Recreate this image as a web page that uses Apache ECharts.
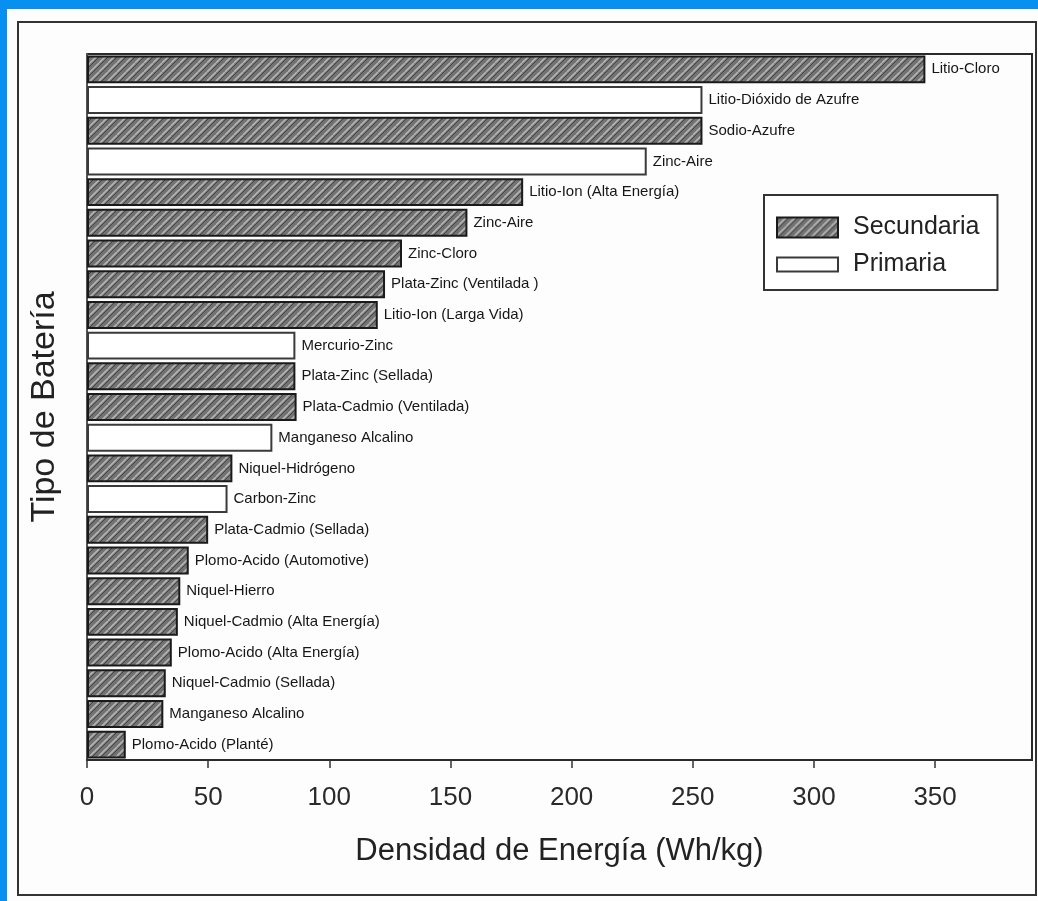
<!DOCTYPE html>
<html>
<head>
<meta charset="utf-8">
<script src="https://cdn.jsdelivr.net/npm/echarts@6/dist/echarts.min.js"></script>
<style>
html,body{margin:0;padding:0;background:#0890f0;}
#chart{width:1038px;height:901px;}
</style>
</head>
<body>
<div id="chart"></div>
<script>
// ---- data (top to bottom) ----
const categories = [
  'Litio-Cloro', 'Litio-Dióxido de Azufre', 'Sodio-Azufre', 'Zinc-Aire',
  'Litio-Ion (Alta Energía)', 'Zinc-Aire', 'Zinc-Cloro', 'Plata-Zinc (Ventilada )',
  'Litio-Ion (Larga Vida)', 'Mercurio-Zinc', 'Plata-Zinc (Sellada)', 'Plata-Cadmio (Ventilada)',
  'Manganeso Alcalino', 'Niquel-Hidrógeno', 'Carbon-Zinc', 'Plata-Cadmio (Sellada)',
  'Plomo-Acido (Automotive)', 'Niquel-Hierro', 'Niquel-Cadmio (Alta Energía)', 'Plomo-Acido (Alta Energía)',
  'Niquel-Cadmio (Sellada)', 'Manganeso Alcalino', 'Plomo-Acido (Planté)'
];
const energyDensity = [
  346, 254, 254, 231,
  180, 157, 130, 123,
  120, 86, 86, 86.5,
  76.5, 60, 58, 50,
  42, 38.5, 37.5, 35,
  32.5, 31.5, 16
];
// S = Secundaria, P = Primaria
const batteryType = [
  'S', 'P', 'S', 'P',
  'S', 'S', 'S', 'S',
  'S', 'P', 'S', 'S',
  'P', 'S', 'P', 'S',
  'S', 'S', 'S', 'S',
  'S', 'S', 'S'
];
const seriesNames = ['Secundaria', 'Primaria'];
const xTickValues = [0, 50, 100, 150, 200, 250, 300, 350];

const secondaryData = energyDensity.map((v, i) => batteryType[i] === 'S' ? v : '-');
const primaryData = energyDensity.map((v, i) => batteryType[i] === 'P' ? v : '-');

// hatch pattern for secondary bars
function makeHatch() {
  const c = document.createElement('canvas');
  c.width = 9; c.height = 9;
  const g = c.getContext('2d');
  g.fillStyle = '#727272';
  g.fillRect(0, 0, 9, 9);
  g.strokeStyle = '#b4b4b4';
  g.lineWidth = 1.6;
  for (let k = -9; k <= 18; k += 9) {
    g.beginPath(); g.moveTo(k, 9); g.lineTo(k + 9, 0); g.stroke();
  }
  g.strokeStyle = '#454545';
  g.lineWidth = 1;
  for (let k = -9; k <= 18; k += 9) {
    g.beginPath(); g.moveTo(k + 3, 9); g.lineTo(k + 12, 0); g.stroke();
  }
  return c;
}
const hatch = { image: makeHatch(), repeat: 'repeat' };

const chart = echarts.init(document.getElementById('chart'));
const labelCfg = {
  show: true,
  position: 'right',
  distance: 6,
  fontFamily: 'Liberation Sans, Arial, sans-serif',
  fontSize: 15,
  color: '#161616',
  formatter: p => categories[p.dataIndex]
};
chart.setOption({
  backgroundColor: '#0890f0',
  animation: false,
  graphic: [
    { type: 'rect', z: -10, shape: { x: 7, y: 9, width: 1031, height: 892 }, style: { fill: '#fdfdfd' } },
    { type: 'rect', z: -9, shape: { x: 18, y: 22, width: 1018, height: 873 }, style: { fill: 'none', stroke: '#333', lineWidth: 2 } }
  ],
  grid: {
    left: 87, top: 54, right: 6, bottom: 141,
    show: true, borderColor: '#2a2a2a', borderWidth: 2, backgroundColor: 'transparent'
  },
  legend: {
    orient: 'vertical',
    left: 764, top: 195,
    data: [
      { name: seriesNames[0], icon: 'rect' },
      { name: seriesNames[1], icon: 'path://M0,0L61,0L61,14L0,14Z' }
    ],
    backgroundColor: '#fff',
    borderColor: '#333', borderWidth: 2,
    padding: [20, 18, 13, 12],
    itemWidth: 61, itemHeight: 20, itemGap: 12,
    textStyle: { fontFamily: 'Liberation Sans, Arial, sans-serif', fontSize: 25, color: '#222', padding: [0, 0, 0, 10] }
  },
  xAxis: {
    type: 'value',
    min: 0, max: 390, interval: 50,
    name: 'Densidad de Energía (Wh/kg)',
    nameLocation: 'middle',
    nameGap: 76,
    nameTextStyle: { fontFamily: 'Liberation Sans, Arial, sans-serif', fontSize: 31, color: '#222' },
    axisLine: { show: true, lineStyle: { color: '#2a2a2a', width: 2 } },
    axisTick: { show: true, length: 8, customValues: xTickValues, lineStyle: { color: '#333', width: 1.5 } },
    axisLabel: {
      customValues: xTickValues,
      margin: 25,
      fontFamily: 'Liberation Sans, Arial, sans-serif',
      fontSize: 26, color: '#2a2a2a'
    },
    splitLine: { show: false }
  },
  yAxis: {
    type: 'category',
    inverse: true,
    data: categories.map((c, i) => i + ':' + c),
    name: 'Tipo de Batería',
    nameLocation: 'middle',
    nameGap: 25,
    nameTextStyle: { fontFamily: 'Liberation Sans, Arial, sans-serif', fontSize: 34, color: '#222' },
    axisLine: { show: true, lineStyle: { color: '#555', width: 2 } },
    axisTick: { show: false },
    axisLabel: { show: false },
    splitLine: { show: false }
  },
  series: [
    {
      name: seriesNames[0], type: 'bar', stack: 'all',
      data: secondaryData,
      barCategoryGap: '9%',
      itemStyle: { color: hatch, borderColor: '#1a1a1a', borderWidth: 2 },
      label: labelCfg
    },
    {
      name: seriesNames[1], type: 'bar', stack: 'all',
      data: primaryData,
      barCategoryGap: '9%',
      itemStyle: { color: '#ffffff', borderColor: '#3a3a3a', borderWidth: 2 },
      label: labelCfg
    }
  ]
});
</script>
</body>
</html>
